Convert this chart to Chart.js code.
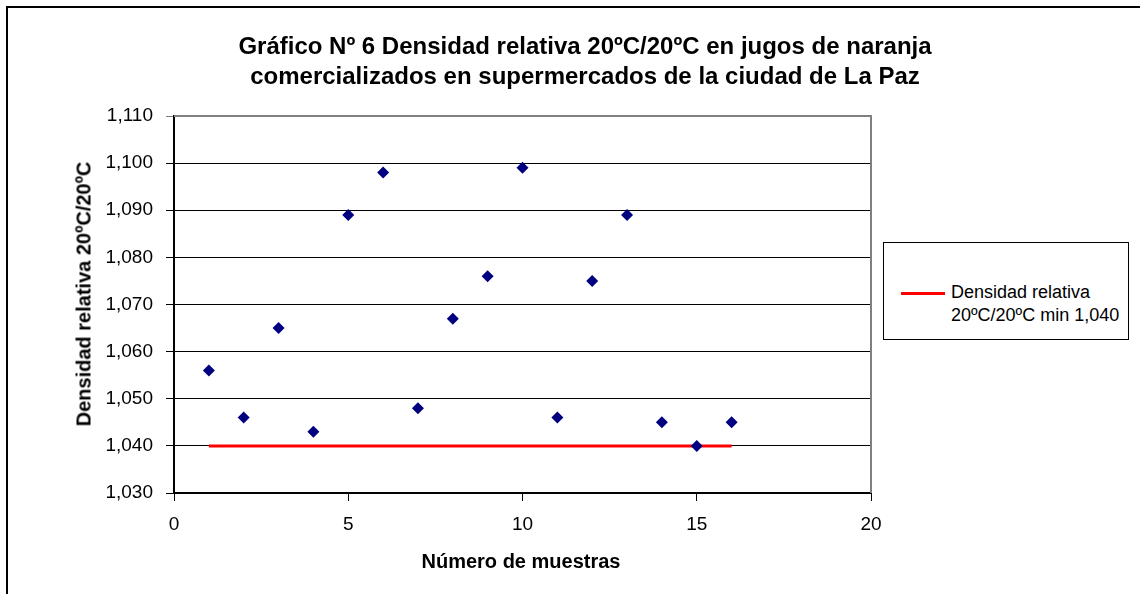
<!DOCTYPE html>
<html>
<head>
<meta charset="utf-8">
<script src="https://cdn.jsdelivr.net/npm/chart.js@4/dist/chart.umd.min.js"></script>
<style>
  body { margin: 0; background: #fff; }
  #wrap { position: relative; width: 1140px; height: 594px; overflow: hidden; font-family: "Liberation Sans", Arial, sans-serif; }
  #frame { position: absolute; left: 6px; top: 6px; width: 1200px; height: 700px; border: 2px solid #000; }
  canvas { position: absolute; left: 0; top: 0; }
  .txt { position: absolute; white-space: nowrap; color: #000; }
  #title { left: 0; width: 1170px; top: 31px; text-align: center; font-weight: bold; font-size: 24px; line-height: 30px; }
  #ytitle { left: 84px; top: 294px; font-weight: bold; font-size: 20px; transform: translate(-50%, -50%) rotate(-90deg); }
  #xtitle { left: 521px; top: 561px; font-weight: bold; font-size: 20px; transform: translate(-50%, -50%); }
  #legend { position: absolute; left: 883px; top: 242px; width: 244px; height: 96px; border: 1px solid #000; background: #fff; }
  #legline { position: absolute; left: 17px; top: 49px; width: 44px; height: 3px; background: #ff0000; }
  #legtext { left: 67px; top: 38px; font-size: 18px; line-height: 23px; }
</style>
</head>
<body>
<div id="wrap">
  <div id="frame"></div>
  <canvas id="chart" width="1140" height="594"></canvas>
  <div class="txt" id="title">Gráfico Nº 6 Densidad relativa 20ºC/20ºC en jugos de naranja<br>comercializados en supermercados de la ciudad de La Paz</div>
  <div class="txt" id="ytitle">Densidad relativa 20ºC/20ºC</div>
  <div class="txt" id="xtitle">Número de muestras</div>
  <div id="legend">
    <div id="legline"></div>
    <div class="txt" id="legtext">Densidad relativa<br>20ºC/20ºC min 1,040</div>
  </div>
</div>
<script>
// muestras y densidades
const muestras = [1, 2, 3, 4, 5, 6, 7, 8, 9, 10, 11, 12, 13, 14, 15, 16];
const densidad = [1.056, 1.046, 1.065, 1.043, 1.089, 1.098, 1.048, 1.067, 1.076, 1.099, 1.046, 1.075, 1.089, 1.045, 1.040, 1.045];
const limiteX = [1, 16];
const limiteY = [1.040, 1.040];
const yTicks = [1.030, 1.040, 1.050, 1.060, 1.070, 1.080, 1.090, 1.100, 1.110];
const xTicks = [0, 5, 10, 15, 20];

const _NAVY = '#000080';
const _RED = '#ff0000';
const _GRAY = '#808080';

function fmt(v) {
    return v.toFixed(3).replace('.', ',');
}

// top and right edge of the plot area are gray
const plotBorder = {
    id: 'plotBorder',
    beforeDatasetsDraw(chart) {
        const a = chart.chartArea;
        const ctx = chart.ctx;
        ctx.save();
        ctx.strokeStyle = _GRAY;
        ctx.lineWidth = 2;
        ctx.beginPath();
        ctx.moveTo(a.left, a.top);
        ctx.lineTo(a.right, a.top);
        ctx.lineTo(a.right, a.bottom);
        ctx.stroke();
        ctx.restore();
    }
};

const ctx = document.getElementById('chart').getContext('2d');
new Chart(ctx, {
    type: 'scatter',
    data: {
        datasets: [{
            label: 'Densidad',
            data: muestras.map((m, i) => ({ x: m, y: densidad[i] })),
            pointStyle: 'rectRot',
            pointRadius: 6,
            backgroundColor: _NAVY,
            borderColor: _NAVY,
            borderWidth: 0,
            order: 1
        }, {
            label: 'Densidad relativa 20ºC/20ºC min 1,040',
            data: limiteX.map((x, i) => ({ x: x, y: limiteY[i] })),
            showLine: true,
            pointRadius: 0,
            borderColor: _RED,
            borderWidth: 3,
            order: 2
        }]
    },
    options: {
        responsive: false,
        animation: false,
        layout: { padding: { left: 0, top: 116, right: 269, bottom: 0 } },
        plugins: {
            legend: { display: false },
            tooltip: { enabled: false }
        },
        scales: {
            x: {
                type: 'linear',
                min: 0,
                max: 20,
                afterBuildTicks: (s) => { s.ticks = xTicks.map(v => ({ value: v })); },
                afterFit: (s) => { s.height = 101; },
                ticks: {
                    color: '#000',
                    font: { family: 'Liberation Sans', size: 19 },
                    padding: 12
                },
                grid: { drawOnChartArea: false, drawTicks: true, tickLength: 8, color: '#000', lineWidth: 1 },
                border: { display: true, color: '#000', width: 2 }
            },
            y: {
                type: 'linear',
                min: 1.030,
                max: 1.110,
                afterBuildTicks: (s) => { s.ticks = yTicks.map(v => ({ value: v })); },
                afterFit: (s) => { s.width = 174; },
                ticks: {
                    color: '#000',
                    font: { family: 'Liberation Sans', size: 19 },
                    padding: 13,
                    callback: (v) => fmt(v)
                },
                grid: {
                    drawTicks: true,
                    tickLength: 8,
                    lineWidth: 1,
                    color: (c) => (c.index === yTicks.length - 1 ? _GRAY : '#000')
                },
                border: { display: true, color: '#000', width: 2 }
            }
        }
    },
    plugins: [plotBorder]
});
</script>
</body>
</html>
